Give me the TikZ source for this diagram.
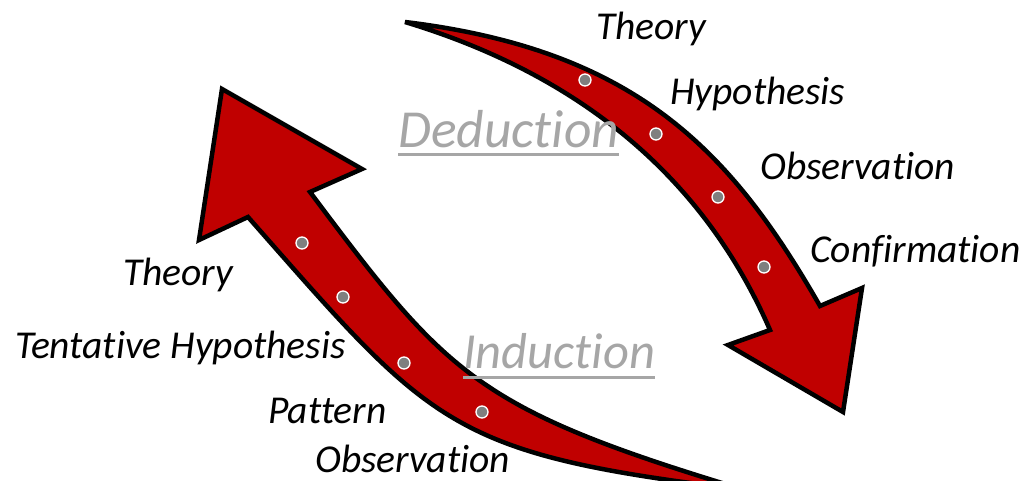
\documentclass[tikz,border=0pt]{standalone}
\usepackage{fontspec}
\setsansfont{Carlito}[Ligatures=NoCommon]
\usetikzlibrary{positioning}
\definecolor{arrowred}{HTML}{C00000}
\definecolor{dotgray}{HTML}{7F7F7F}
\definecolor{wordgray}{HTML}{A6A6A6}
\begin{document}
\begin{tikzpicture}[
  x=1pt, y=-1pt,
  font=\sffamily\itshape,
  body/.style={fill=arrowred, draw=black, line width=4.5pt, line join=miter},
  dot/.style={circle, fill=dotgray, draw=white, line width=1.3pt, minimum size=12pt, inner sep=0pt},
  lbl/.style={font=\sffamily\itshape\fontsize{39.5}{42}\selectfont, inner sep=0pt, anchor=base west},
  big/.style={font=\sffamily\itshape\fontsize{53.5}{56}\selectfont, text=wordgray, inner sep=0pt, anchor=base west},
  uline/.style={draw=wordgray, line width=3pt},
]
\useasboundingbox (0,0) rectangle (1032,481);
\clip (0,0) rectangle (1032,481);

% deduction arrow, down to the right
\draw[body] (405,22) .. controls (635,50) and (730,149) .. (820,306)
  -- (862,288) -- (843,412) -- (728,345) -- (770,330)
  .. controls (710,192) and (597,80) .. (405,22) -- cycle;

% induction arrow, up to the left
\draw[body] (745,490) .. controls (476,409) and (448,376) .. (310,192)
  -- (362,169) -- (222,89) -- (199,240) -- (248,217)
  .. controls (433,427) and (448,454) .. (745,490) -- cycle;

\foreach \n/\x/\y in {d1/585/80, d2/656/134, d3/718/197, d4/764/267, i1/302/243, i2/343/297, i3/404/363, i4/482/412}
  {\node[dot] (\n) at (\x,\y) {};}

\node[big] (ded) at (398,148) {Deduction};
\draw[uline] ([yshift=-7pt]ded.base west) -- ([yshift=-7pt]ded.base east);
\node[big, font=\sffamily\itshape\fontsize{50.5}{53}\selectfont] (ind) at (463,368) {Induction};
\draw[uline] ([yshift=-9pt]ind.base west) -- ([yshift=-9pt]ind.base east);

\node[lbl] (dtheory) at (596,40) {Theory};
\node[lbl] (dhyp) at (670,105) {Hypothesis};
\node[lbl] (dobs) at (760,179) {Observation};
\node[lbl] (dconf) at (810,262) {Confirmation};

\node[lbl] (itheory) at (123,285) {Theory};
\node[lbl] (ihyp) at (15,358) {Tentative Hypothesis};
\node[lbl] (ipat) at (268,423) {Pattern};
\node[lbl] (iobs) at (315,472) {Observation};
\end{tikzpicture}
\end{document}
